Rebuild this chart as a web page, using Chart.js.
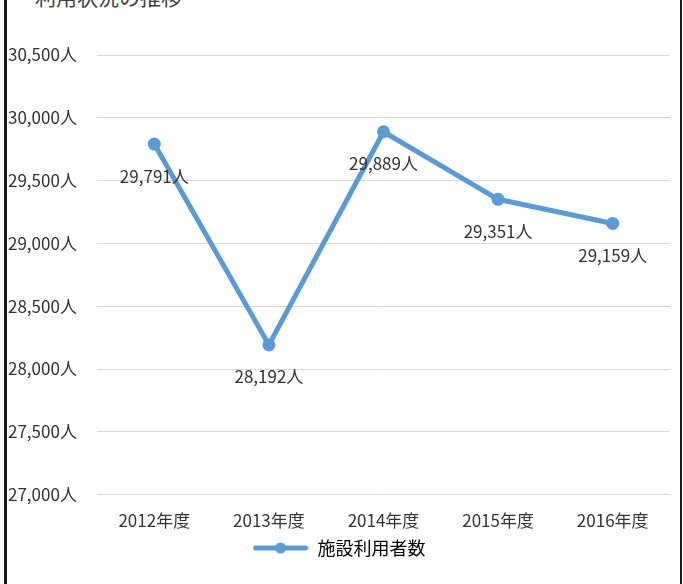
<!DOCTYPE html>
<html lang="ja">
<head>
  <meta charset="UTF-8">
  <title>施設利用者数</title>
  <script src="https://cdn.jsdelivr.net/npm/chart.js"></script>
  <style>
    body { margin: 0; background: #fff; font-family: "Noto Sans CJK JP", sans-serif; }
    #wrap { position: relative; width: 683px; height: 584px; overflow: hidden; }
    #wrap::before { content: ""; position: absolute; left: 4px; top: 0; bottom: 0; width: 3px; background: #1a1a1a; }
    #wrap::after { content: ""; position: absolute; left: 680px; top: 0; bottom: 0; width: 2px; background: #1a1a1a; }
    #title { position: absolute; left: 14px; top: -19px; font-size: 21px; color: #404040; white-space: nowrap; }
    canvas { position: absolute; left: 0; top: 0; }
  </style>
</head>
<body>
  <div id="wrap">
    <div id="title">・利用状況の推移</div>
    <canvas id="myChart" width="683" height="584"></canvas>
  </div>

  <script>
    // chart data
    const years = ['2012年度', '2013年度', '2014年度', '2015年度', '2016年度'];
    const users = [29791, 28192, 29889, 29351, 29159];
    const seriesName = '施設利用者数';
    const yMin = 27000, yMax = 30500, yStep = 500;

    const blue = '#5B9BD5';
    const textColor = '#333333';
    const font = { family: '"Noto Sans CJK JP", sans-serif', size: 17 };

    const fmt = v => v.toLocaleString('en-US') + '人';

    // legend icon: line with a dot in the middle
    const icon = document.createElement('canvas');
    icon.width = 56; icon.height = 12;
    const ic = icon.getContext('2d');
    ic.strokeStyle = blue; ic.lineWidth = 5; ic.lineCap = 'round';
    ic.beginPath(); ic.moveTo(3, 6); ic.lineTo(53, 6); ic.stroke();
    ic.fillStyle = blue;
    ic.beginPath(); ic.arc(28, 6, 5.5, 0, Math.PI * 2); ic.fill();

    // draws the value under each point
    const valueLabels = {
      id: 'valueLabels',
      afterDatasetsDraw(chart) {
        const ctx = chart.ctx;
        const meta = chart.getDatasetMeta(0);
        ctx.save();
        ctx.font = font.size + 'px ' + font.family;
        ctx.fillStyle = textColor;
        ctx.textAlign = 'center';
        ctx.textBaseline = 'middle';
        meta.data.forEach((pt, i) => {
          ctx.fillText(fmt(users[i]), pt.x, pt.y + 32);
        });
        ctx.restore();
      }
    };

    const ctx = document.getElementById('myChart').getContext('2d');
    new Chart(ctx, {
      type: 'line',
      data: {
        labels: years,
        datasets: [{
          label: seriesName,
          data: users,
          borderColor: blue,
          backgroundColor: blue,
          borderWidth: 5,
          pointRadius: 6.5,
          pointBackgroundColor: blue,
          pointBorderWidth: 0,
          tension: 0
        }]
      },
      options: {
        responsive: false,
        animation: false,
        layout: { padding: { left: 8, right: 13, top: 55, bottom: 17 } },
        plugins: {
          tooltip: { enabled: false },
          legend: {
            position: 'bottom',
            labels: {
              color: textColor,
              font: { family: font.family, size: 18 },
              usePointStyle: true,
              pointStyleWidth: 56,
              padding: 0,
              generateLabels: () => [{
                text: seriesName,
                pointStyle: icon,
                fillStyle: blue,
                strokeStyle: blue,
                lineWidth: 0,
                datasetIndex: 0
              }]
            }
          }
        },
        scales: {
          x: {
            offset: true,
            grid: { display: false },
            border: { display: false },
            ticks: { color: textColor, font: font, padding: 8 }
          },
          y: {
            min: yMin,
            max: yMax,
            afterFit: s => { s.width = 89; },
            grid: { color: '#d9d9d9', lineWidth: 1, drawTicks: false },
            border: { display: false },
            ticks: {
              stepSize: yStep,
              color: textColor,
              font: font,
              crossAlign: 'far',
              padding: 0,
              callback: v => fmt(v)
            }
          }
        }
      },
      plugins: [valueLabels]
    });
  </script>
</body>
</html>
